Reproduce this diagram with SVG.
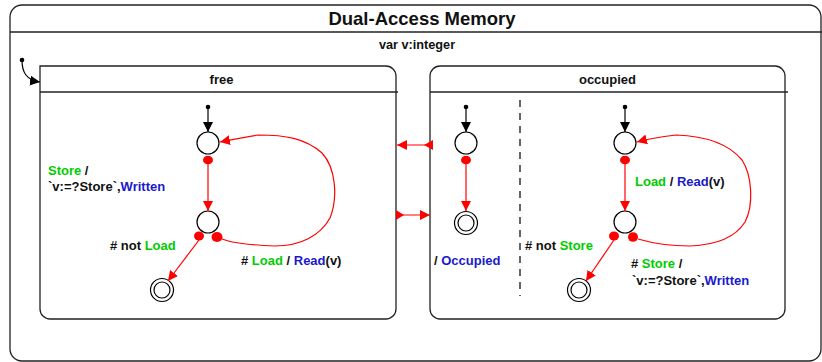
<svg xmlns="http://www.w3.org/2000/svg" width="822" height="362" viewBox="0 0 822 362">
<style>
text{font-family:"Liberation Sans",Arial,sans-serif;font-weight:bold;font-size:13px;fill:#111}
.g{fill:#00cc00}.b{fill:#1a1acc}
.box{fill:none;stroke:#222;stroke-width:1.3}
.st{fill:#fff;stroke:#000;stroke-width:1.2}
.red{fill:none;stroke:#f00;stroke-width:1.2}
.blk{fill:none;stroke:#000;stroke-width:1.2}
.rd{fill:#f00}
</style>
<defs>
<marker id="ra" viewBox="0 0 10 10" refX="10" refY="5" markerWidth="10" markerHeight="10" markerUnits="userSpaceOnUse" orient="auto"><path d="M0,0L10,5L0,10z" fill="#f00"/></marker>
<marker id="ba" viewBox="0 0 10 10" refX="10" refY="5" markerWidth="10" markerHeight="10" markerUnits="userSpaceOnUse" orient="auto"><path d="M0,0L10,5L0,10z" fill="#000"/></marker>
</defs>
<g id="outer">
<path class="box" d="M22,5H809A12,12 0 0 1 821,17V349A12,12 0 0 1 809,361H22A12,12 0 0 1 10,349V17A12,12 0 0 1 22,5z"/>
<line class="box" x1="10" y1="32" x2="822" y2="32"/>
<text x="422" y="25" text-anchor="middle" style="font-size:18.5px">Dual-Access Memory</text>
<text x="417" y="49" text-anchor="middle" style="font-size:12.7px">var v:integer</text>
</g>
<g id="free">
<path class="box" d="M50,66H386A10,10 0 0 1 396,76V309A10,10 0 0 1 386,319H50A10,10 0 0 1 40,309V66z"/>
<line class="box" x1="40" y1="92" x2="398" y2="92"/>
<text x="221.5" y="84" text-anchor="middle">free</text>
<circle cx="208" cy="107" r="2.3"/>
<circle class="st" cx="208" cy="143" r="11"/>
<circle class="st" cx="208" cy="222" r="11"/>
<circle class="st" cx="162" cy="290" r="11.5"/>
<circle class="st" cx="162" cy="290" r="8"/>
<ellipse class="rd" cx="208" cy="160" rx="5" ry="4.3"/>
<ellipse class="rd" cx="199" cy="236" rx="5" ry="4.5"/>
<ellipse class="rd" cx="217" cy="237" rx="5.5" ry="5"/>
<text x="48" y="175"><tspan class="g">Store</tspan> /</text>
<text x="48" y="191">`v:=?Store`,<tspan class="b">Written</tspan></text>
<text x="110" y="250"># not <tspan class="g">Load</tspan></text>
<text x="241" y="265"># <tspan class="g">Load</tspan> / <tspan class="b">Read</tspan>(v)</text>
</g>
<g id="occupied">
<path class="box" d="M440,66H775A10,10 0 0 1 785,76V309A10,10 0 0 1 775,319H440A10,10 0 0 1 430,309V76A10,10 0 0 1 440,66z"/>
<line class="box" x1="430" y1="92" x2="788" y2="92"/>
<text x="607.5" y="84" text-anchor="middle">occupied</text>
<line x1="520" y1="100" x2="520" y2="296" stroke="#000" stroke-width="1.2" stroke-dasharray="7,6"/>
<circle cx="466" cy="107" r="2.3"/>
<circle class="st" cx="466" cy="143" r="11"/>
<circle class="st" cx="466" cy="223" r="11.5"/>
<circle class="st" cx="466" cy="223" r="8"/>
<ellipse class="rd" cx="466" cy="160" rx="5" ry="4.3"/>
<text x="434" y="265">/ <tspan class="b">Occupied</tspan></text>
<circle cx="625" cy="107" r="2.3"/>
<circle class="st" cx="625" cy="143" r="11"/>
<circle class="st" cx="625" cy="222" r="11"/>
<circle class="st" cx="579" cy="290" r="11.5"/>
<circle class="st" cx="579" cy="290" r="8"/>
<ellipse class="rd" cx="625" cy="160" rx="5" ry="4.3"/>
<ellipse class="rd" cx="614" cy="236" rx="5" ry="4.5"/>
<ellipse class="rd" cx="633" cy="237" rx="5" ry="4.8"/>
<text x="635" y="186"><tspan class="g">Load</tspan> / <tspan class="b">Read</tspan>(v)</text>
<text x="525" y="250"># not <tspan class="g">Store</tspan></text>
<text x="631" y="268"># <tspan class="g">Store</tspan> /</text>
<text x="632" y="285">`v:=?Store`,<tspan class="b">Written</tspan></text>
</g>
<g id="connectors">
<path class="blk" d="M22,60C22,72 26,80 40,82" marker-end="url(#ba)"/>
<circle cx="22" cy="60" r="2.3"/>
<line class="blk" x1="208" y1="107" x2="208" y2="132" marker-end="url(#ba)"/>
<line class="red" x1="208" y1="164" x2="208" y2="211" marker-end="url(#ra)"/>
<line class="red" x1="199" y1="240" x2="168" y2="281" marker-end="url(#ra)"/>
<path class="red" d="M222,239C235,244 255,245 275,246C300,246 320,236 330,218C338,198 336,168 322,153C305,138 285,135 258,135C245,137 235,139 220,142" marker-end="url(#ra)"/>
<line class="red" x1="430" y1="145" x2="397" y2="145" marker-end="url(#ra)"/>
<path d="M433,140L424,145L433,150z" fill="#f00"/>
<line class="red" x1="396" y1="215" x2="430" y2="215" marker-end="url(#ra)"/>
<path d="M396,210L404,215L396,220z" fill="#f00"/>
<line class="blk" x1="466" y1="107" x2="466" y2="132" marker-end="url(#ba)"/>
<line class="red" x1="466" y1="164" x2="466" y2="211" marker-end="url(#ra)"/>
<line class="blk" x1="625" y1="107" x2="625" y2="132" marker-end="url(#ba)"/>
<line class="red" x1="625" y1="164" x2="625" y2="211" marker-end="url(#ra)"/>
<line class="red" x1="614" y1="240" x2="586" y2="281" marker-end="url(#ra)"/>
<path class="red" d="M638,239C655,244 675,246 690,246C715,245 735,238 745,222C754,205 752,175 742,160C728,143 705,136 676,135C660,137 648,139 637,142" marker-end="url(#ra)"/>
</g>
</svg>
